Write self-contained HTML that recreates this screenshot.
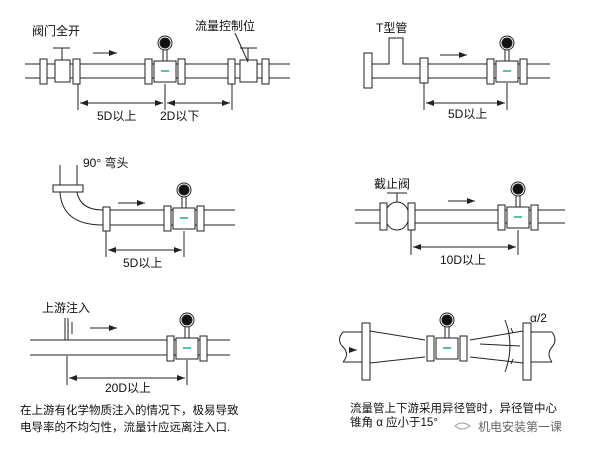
<!DOCTYPE html>
<html><head><meta charset="utf-8"><style>
body{margin:0;background:#fff;width:600px;height:450px;overflow:hidden}
svg{display:block}
text{font-family:"Liberation Sans","Noto Sans CJK SC",sans-serif;fill:#111;stroke:none}
</style></head><body>
<svg width="600" height="450" viewBox="0 0 600 450" stroke="#222" stroke-width="1" fill="none">
<defs>
<marker id="a" markerWidth="8" markerHeight="6" refX="8" refY="3" orient="auto"><path d="M0,0L8,3L0,6z" fill="#222" stroke="none"/></marker>
<marker id="b" markerWidth="8" markerHeight="6" refX="0" refY="3" orient="auto"><path d="M8,0L0,3L8,6z" fill="#222" stroke="none"/></marker>
<g id="m">
<rect x="-20" y="-12" width="7" height="25" fill="#fff"/>
<rect x="13" y="-12" width="7" height="25" fill="#fff"/>
<rect x="-11" y="-10" width="22" height="21" fill="#fff"/>
<line x1="-4" y1="0" x2="4" y2="0" stroke="#2a8" stroke-width="1.5"/>
<rect x="-2" y="-22" width="4" height="12" fill="#fff"/>
<circle cx="0" cy="-28" r="7" fill="#fff"/>
<circle cx="0" cy="-28" r="5" fill="#111"/>
</g>
</defs>
<!-- Panel 1 -->
<path d="M25,64H290M25,78H290"/>
<g fill="#fff"><rect x="40" y="59" width="7" height="25"/><rect x="73" y="59" width="7" height="25"/><rect x="55" y="60" width="15" height="22"/>
<rect x="228" y="59" width="7" height="25"/><rect x="262" y="59" width="7" height="25"/><rect x="240" y="60" width="17" height="22"/></g>
<path d="M62,60V48M53,48H70M248,60V48M240,48H257M235,33L248,62"/>
<use href="#m" x="165" y="71"/>
<path d="M93,53H117" marker-end="url(#a)"/>
<path d="M78,84V110M165,84V110M232,84V110"/>
<path d="M80,103H163" marker-start="url(#b)" marker-end="url(#a)"/>
<path d="M167,103H230" marker-start="url(#b)" marker-end="url(#a)"/>
<text x="32" y="35" font-size="12">阀门全开</text>
<text x="195" y="30" font-size="12">流量控制位</text>
<text x="97" y="120" font-size="12">5D以上</text>
<text x="160" y="120" font-size="12">2D以下</text>
<!-- Panel 2 -->
<path d="M372,64H389V38H403V64H550M372,78H550"/>
<g fill="#fff"><rect x="364" y="53" width="8" height="35"/><rect x="420" y="58" width="8" height="25"/></g>
<use href="#m" x="507" y="71"/>
<path d="M440,55H467" marker-end="url(#a)"/>
<path d="M424,83V110M507,83V110"/>
<path d="M426,103H505" marker-start="url(#b)" marker-end="url(#a)"/>
<text x="376" y="32" font-size="12">T型管</text>
<text x="448" y="118" font-size="12">5D以上</text>
<!-- Panel 3 -->
<path d="M60,165V192M77,165V192"/>
<rect x="53" y="185" width="30" height="7" fill="#fff"/>
<path d="M60,192Q62,225 103,225M77,192Q80,210 103,210"/>
<path d="M110,210H235M110,225H235"/>
<rect x="103" y="207" width="7" height="24" fill="#fff"/>
<use href="#m" x="184" y="218"/>
<path d="M118,203H145" marker-end="url(#a)"/>
<path d="M106,231V257M184,231V257"/>
<path d="M108,250H182" marker-start="url(#b)" marker-end="url(#a)"/>
<text x="83" y="167" font-size="12">90° 弯头</text>
<text x="123" y="267" font-size="12">5D以上</text>
<!-- Panel 4 -->
<path d="M355,210H565M355,223H565"/>
<g fill="#fff"><ellipse cx="397" cy="216" rx="12" ry="14"/><rect x="380" y="203" width="7" height="27"/><rect x="408" y="203" width="7" height="27"/></g>
<path d="M397,202V193M387,193H407"/>
<use href="#m" x="518" y="217"/>
<path d="M448,201H475" marker-end="url(#a)"/>
<path d="M411,230V255M518,230V255"/>
<path d="M413,247H516" marker-start="url(#b)" marker-end="url(#a)"/>
<text x="374" y="188" font-size="12">截止阀</text>
<text x="440" y="264" font-size="12">10D以上</text>
<!-- Panel 5 -->
<path d="M30,340H230M30,355H230M65,318V340M68,318V340M72,322V334"/>
<use href="#m" x="187" y="348"/>
<path d="M90,328H117" marker-end="url(#a)"/>
<path d="M67,356V385M187,360V385"/>
<path d="M69,378H185" marker-start="url(#b)" marker-end="url(#a)"/>
<text x="42" y="312" font-size="12">上游注入</text>
<text x="105" y="392" font-size="12">20D以上</text>
<text x="20" y="414" font-size="11.5">在上游有化学物质注入的情况下，极易导致</text>
<text x="20" y="431" font-size="11.5">电导率的不均匀性，流量计应远离注入口.</text>
<!-- Panel 6 -->
<path d="M343,332H362M343,362H362M343,332Q336,340 343,347Q350,354 343,362"/>
<path d="M531,332H552M531,362H552M552,332Q558,340 552,347Q546,354 552,362"/>
<path d="M370,331L425,340M370,363L425,357M470,340L523,331M470,357L523,363"/>
<path d="M350,350H357" marker-end="url(#a)"/>
<g fill="#fff"><rect x="362" y="323" width="8" height="57"/><rect x="523" y="323" width="8" height="57"/></g>
<use href="#m" x="447" y="348"/>
<path d="M480,344L520,346M505,320Q515,345 505,372"/>
<path d="M511,328L513,333M511,364L513,359"/>
<text x="530" y="322" font-size="12">α/2</text>
<text x="350" y="412" font-size="11.5">流量管上下游采用异径管时，异径管中心</text>
<text x="350" y="426" font-size="11.5">锥角 α 应小于15°</text>
<text x="478" y="431" font-size="12" style="fill:#666">机电安装第一课</text>
<path d="M455,426Q462,420 470,426Q462,432 455,426" stroke="#999"/>
</svg>
</body></html>
